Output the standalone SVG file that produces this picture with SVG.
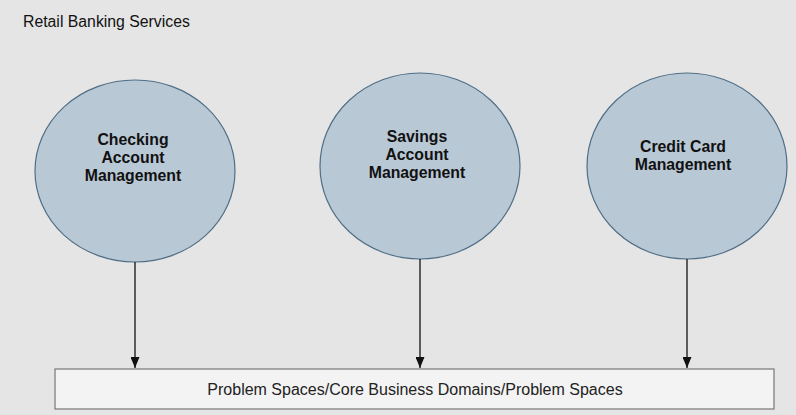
<svg xmlns="http://www.w3.org/2000/svg" width="796" height="415" viewBox="0 0 796 415">
<style>
.bg{fill:#e5e5e5}
.node ellipse{fill:#b9c8d5;stroke:#4f6e85;stroke-width:1.2}
.lbl{font-family:"Liberation Sans",Arial,sans-serif;font-weight:bold;font-size:15.8px;fill:#111;text-anchor:middle}
.title{font-family:"Liberation Sans",Arial,sans-serif;font-size:15.8px;fill:#111}
.edge{stroke:#111;stroke-width:1.3;fill:none}
.box rect{fill:#f3f3f3;stroke:#777;stroke-width:1.2}
.boxt{font-family:"Liberation Sans",Arial,sans-serif;font-size:16px;fill:#222;text-anchor:middle}
</style>
<defs>
<marker id="arr" viewBox="0 0 10 10" refX="10" refY="5" markerWidth="11" markerHeight="9" markerUnits="userSpaceOnUse" orient="auto" preserveAspectRatio="none">
<path d="M0,0 L10,5 L0,10 Z" fill="#111"/>
</marker>
</defs>
<rect class="bg" x="0" y="0" width="796" height="415"/>
<text class="title" x="23" y="27">Retail Banking Services</text>
<g id="checking" class="node">
<ellipse cx="135" cy="171" rx="100" ry="91"/>
<text class="lbl" x="133" y="145">Checking</text>
<text class="lbl" x="133" y="163">Account</text>
<text class="lbl" x="133" y="181">Management</text>
</g>
<g id="savings" class="node">
<ellipse cx="420" cy="166" rx="100" ry="93"/>
<text class="lbl" x="417" y="142">Savings</text>
<text class="lbl" x="417" y="160">Account</text>
<text class="lbl" x="417" y="178">Management</text>
</g>
<g id="credit" class="node">
<ellipse cx="687" cy="166" rx="100" ry="93"/>
<text class="lbl" x="683" y="152">Credit Card</text>
<text class="lbl" x="683" y="170">Management</text>
</g>
<g id="domains" class="box">
<rect x="55" y="369" width="719" height="40"/>
<text class="boxt" x="415" y="395">Problem Spaces/Core Business Domains/Problem Spaces</text>
</g>
<g id="connectors">
<line class="edge" x1="135" y1="262" x2="135" y2="368" marker-end="url(#arr)"/>
<line class="edge" x1="420" y1="259" x2="420" y2="368" marker-end="url(#arr)"/>
<line class="edge" x1="687" y1="259" x2="687" y2="368" marker-end="url(#arr)"/>
</g>
</svg>
